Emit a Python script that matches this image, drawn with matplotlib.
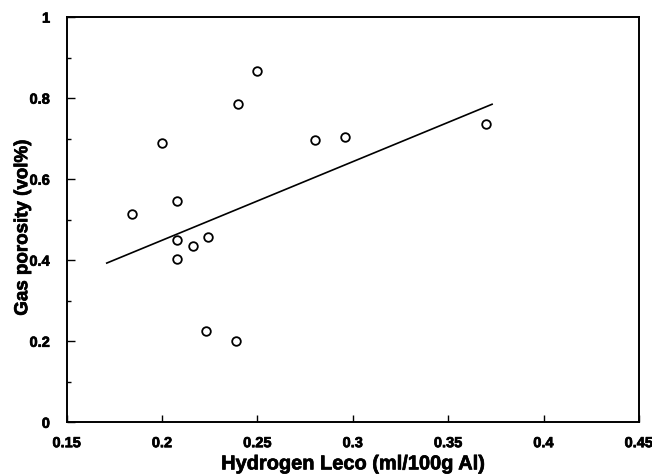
import matplotlib
matplotlib.use("Agg")
import matplotlib.pyplot as plt
from matplotlib.ticker import MultipleLocator
import matplotlib.patheffects as pe

# Data
hydrogen = [0.184, 0.200, 0.208, 0.240, 0.250, 0.280, 0.208, 0.216,
            0.224, 0.208, 0.223, 0.239, 0.296, 0.370]
porosity = [0.514, 0.690, 0.546, 0.785, 0.866, 0.697, 0.450, 0.434,
            0.458, 0.402, 0.226, 0.201, 0.705, 0.736]
fit_x = [0.171, 0.373]
fit_y = [0.393, 0.785]

x_ticks = [0.15, 0.2, 0.25, 0.3, 0.35, 0.4, 0.45]
x_tick_labels = ["0.15", "0.2", "0.25", "0.3", "0.35", "0.4", "0.45"]
y_ticks = [0, 0.2, 0.4, 0.6, 0.8, 1]
y_tick_labels = ["0", "0.2", "0.4", "0.6", "0.8", "1"]

plt.rcParams['font.family'] = ['Liberation Sans', 'DejaVu Sans']

fig = plt.figure(figsize=(6.52, 4.76), dpi=100)
ax = fig.add_axes([0.1023, 0.1128, 0.8777, 0.8512])

ax.plot(fit_x, fit_y, color='black', linewidth=1.2)
ax.plot(hydrogen, porosity, linestyle='none', marker='o', markersize=6.2,
        markerfacecolor='white', markeredgecolor='black', markeredgewidth=1.3)

ax.set_xlim(0.15, 0.45)
ax.set_ylim(0, 1)
ax.set_xticks(x_ticks)
ax.set_xticklabels(x_tick_labels)
ax.set_yticks(y_ticks)
ax.set_yticklabels(y_tick_labels)
ax.yaxis.set_minor_locator(MultipleLocator(0.1))

thick = [pe.withStroke(linewidth=0.5, foreground='black')]
for lab in ax.get_xticklabels() + ax.get_yticklabels():
    lab.set_fontweight('bold')
    lab.set_fontsize(10.5)
    lab.set_path_effects(thick)

ax.tick_params(axis='x', which='major', direction='in', length=5, width=1, pad=10)
ax.tick_params(axis='y', which='major', direction='in', length=6, width=1, pad=12)
ax.tick_params(axis='y', which='minor', direction='in', length=3, width=1)

for s in ax.spines.values():
    s.set_linewidth(1.4)

xl = ax.set_xlabel("Hydrogen Leco (ml/100g Al)", fontsize=14.4, fontweight='bold', labelpad=3)
yl = ax.set_ylabel("Gas porosity (vol%)", fontsize=13.5, fontweight='bold', labelpad=2)
xl.set_path_effects(thick)
yl.set_path_effects(thick)
ax.yaxis.set_label_coords(-0.062, 0.48)

fig.savefig("out.png", dpi=100)
